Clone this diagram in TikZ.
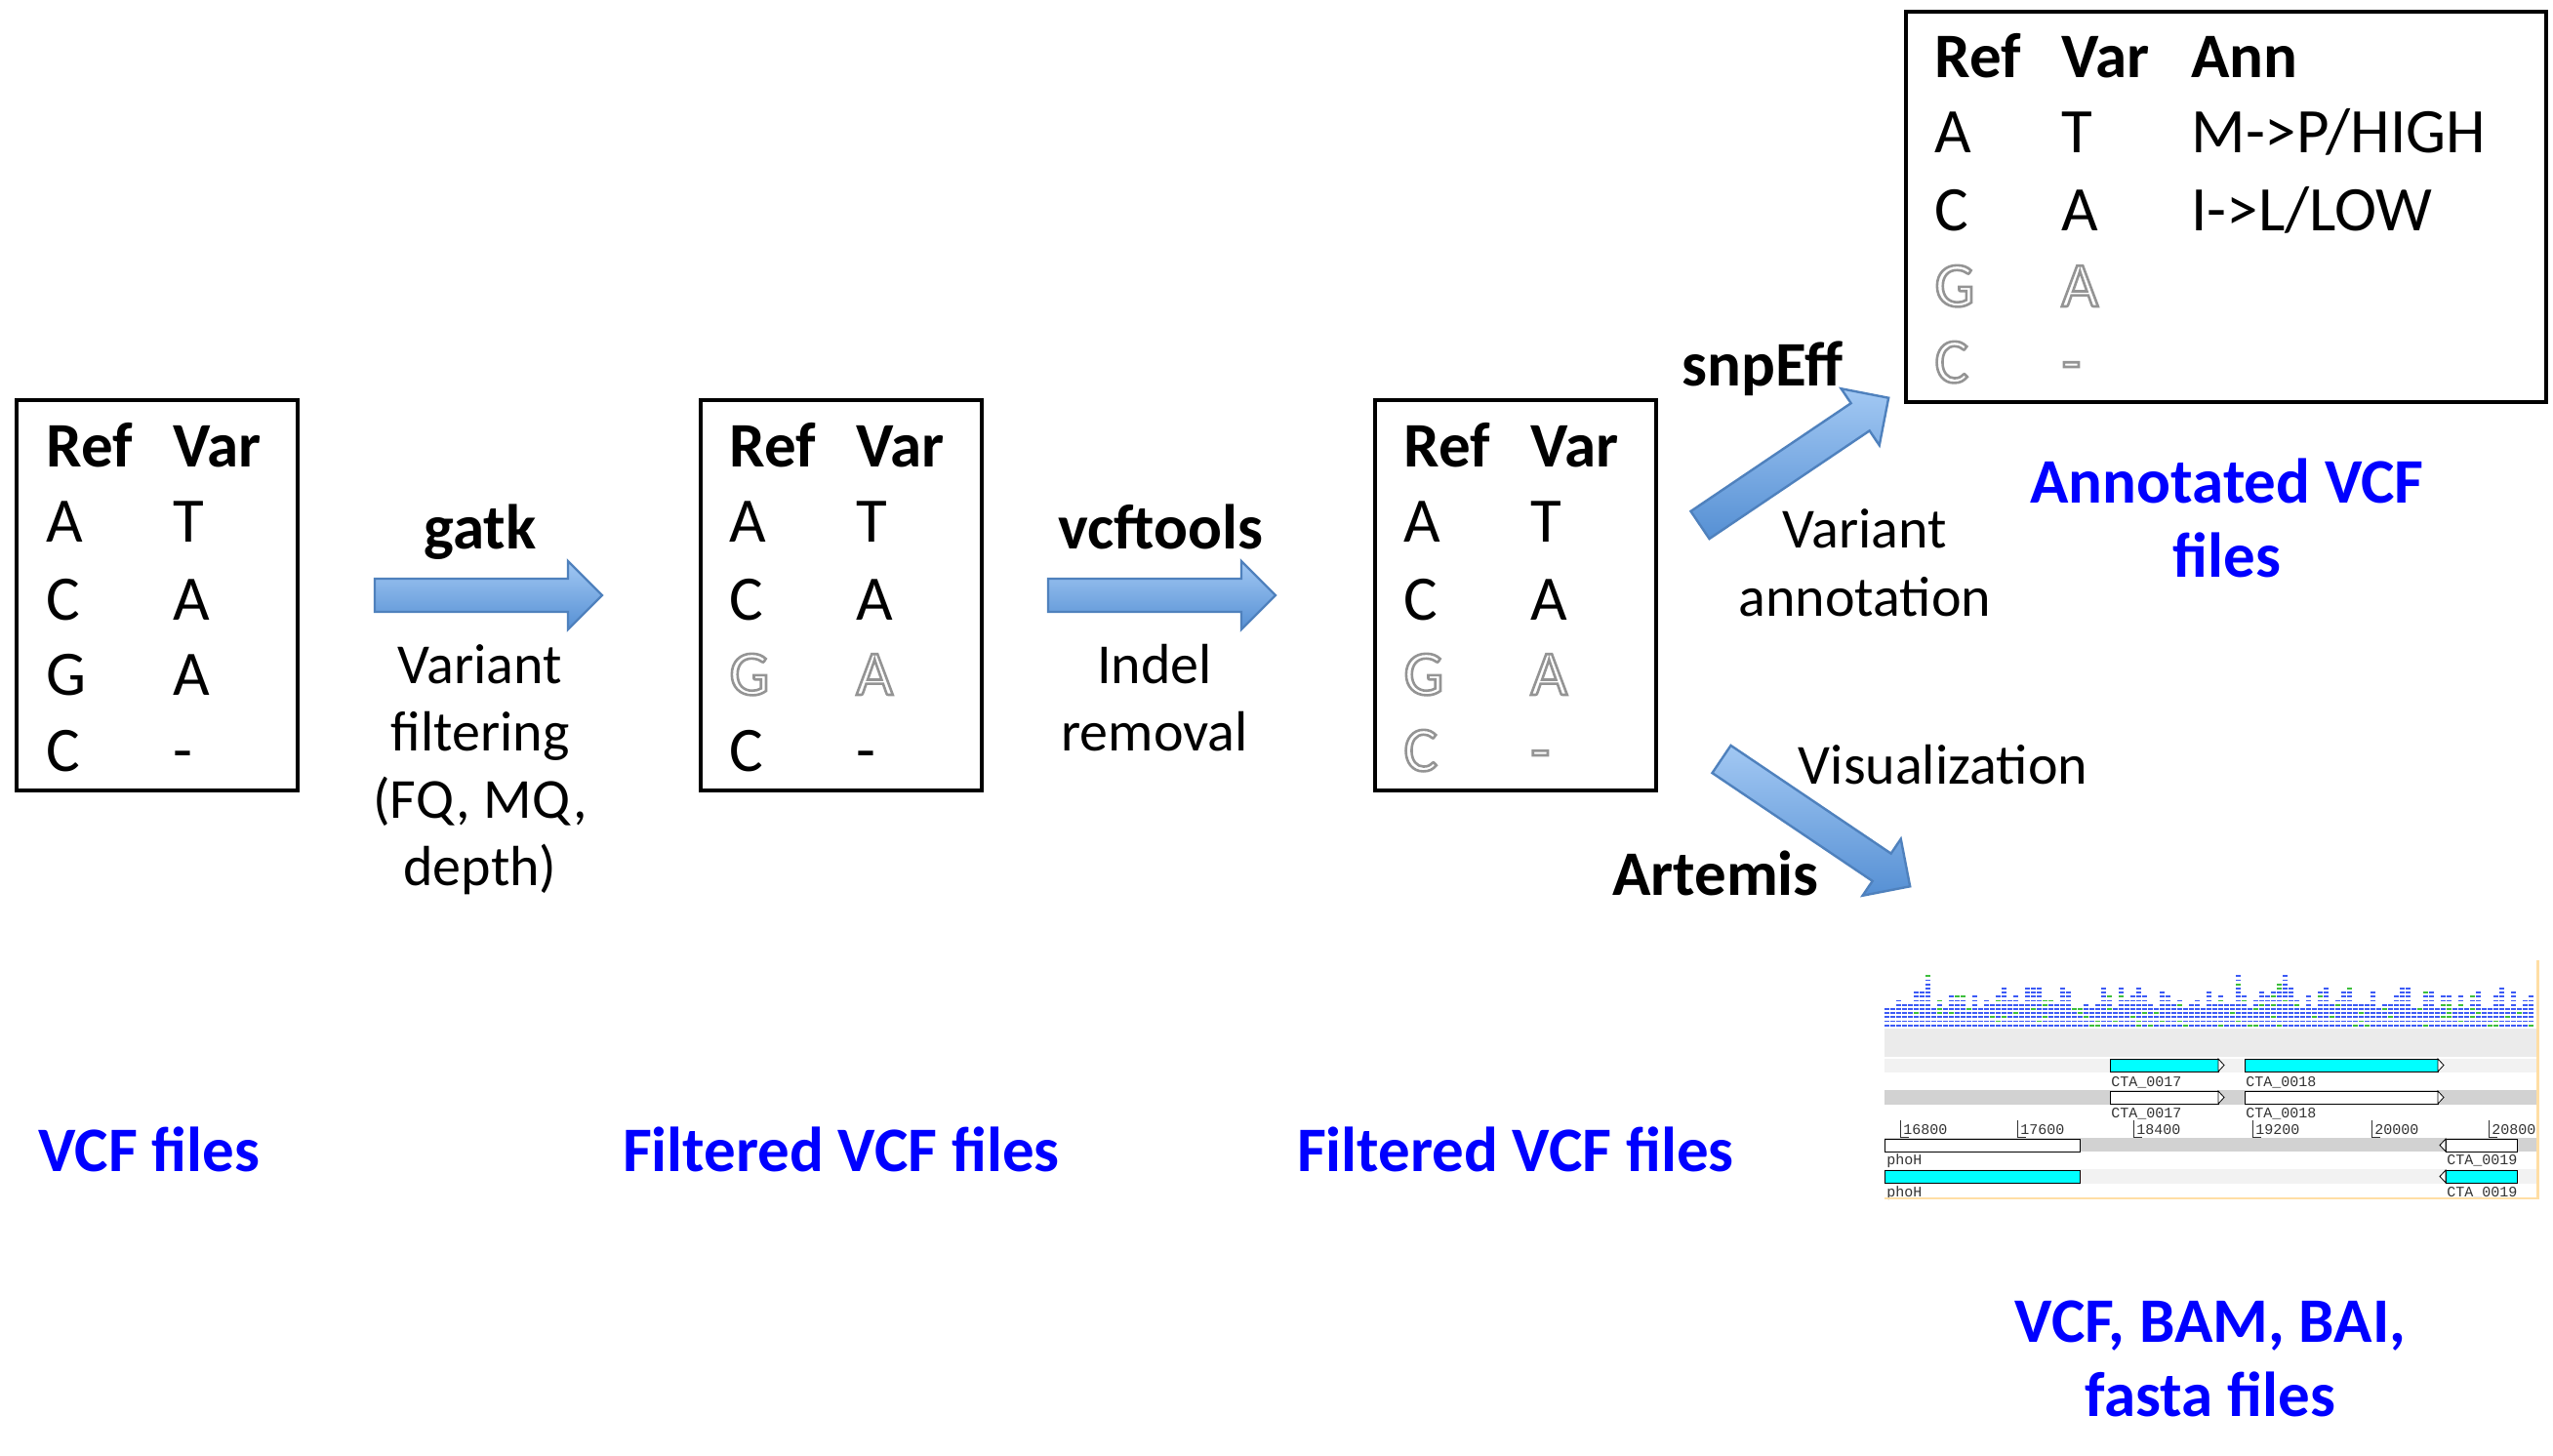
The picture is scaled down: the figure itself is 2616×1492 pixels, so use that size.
\documentclass[tikz,border=0pt]{standalone}
\usepackage{fontspec}
\setmainfont{Carlito}
\newfontfamily\artfont{Liberation Mono}
\usetikzlibrary{calc}
\definecolor{arrtop}{RGB}{162,200,243}
\definecolor{arrbot}{RGB}{86,144,212}
\definecolor{arredge}{RGB}{79,129,189}
\definecolor{readblue}{RGB}{60,90,245}
\definecolor{readgreen}{RGB}{60,190,60}
\definecolor{lblue}{RGB}{0,0,255}
\definecolor{bandA}{RGB}{235,235,235}
\definecolor{bandB}{RGB}{242,242,242}
\definecolor{bandC}{RGB}{210,210,210}
\definecolor{orangeln}{RGB}{255,222,165}
\definecolor{gcyan}{RGB}{0,255,255}
\tikzset{
 cell/.style={font=\fontsize{32.5}{39}\selectfont, anchor=base west, inner sep=0pt},
 hcell/.style={cell, font=\fontsize{32.5}{39}\selectfont\bfseries},
 tablebox/.style={draw, line width=2pt, inner sep=0pt, minimum width=144pt, minimum height=200pt},
 lbl/.style={font=\fontsize{29}{35}\selectfont, anchor=base, inner sep=0pt},
 tool/.style={font=\fontsize{32.5}{39}\selectfont\bfseries, anchor=base, inner sep=0pt},
 outlbl/.style={tool, text=lblue},
 art/.style={font=\artfont\fontsize{7.5}{9}\selectfont, anchor=base west, inner sep=0pt, text=black!80},
 bigarrow/.style={top color=arrtop, bottom color=arrbot, draw=arredge, line width=1.2pt, line join=miter},
}
% outlined (faded) letter via PDF text render mode 2: white fill, grey stroke
\newcommand\ghosttext[1]{\special{pdf:literal q 2 Tr 1.3 w 0.58 G 1 g}#1\special{pdf:literal Q}}
\newcommand\blockarrow[2]{%
  \begin{scope}[shift={(#1)}, rotate=#2]
  \path[bigarrow] (0,-17) -- (198,-17) -- (198,-35) -- (233,0) -- (198,35) -- (198,17) -- (0,17) -- cycle;
  \end{scope}}
\newcommand\fwdgene[4]{%
  \filldraw[fill=#4, draw=black, line width=0.5pt] (#1,#3) rectangle (#2,#3+13);
  \filldraw[fill=white, draw=black, line width=0.4pt] (#2,#3) -- (#2+6,#3+6.5) -- (#2,#3+13) -- cycle;}
\newcommand\revgene[4]{%
  \filldraw[fill=#4, draw=black, line width=0.5pt] (#1,#3) rectangle (#2,#3+13);
  \filldraw[fill=white, draw=black, line width=0.4pt] (#1,#3) -- (#1-6,#3+6.5) -- (#1,#3+13) -- cycle;}
\newcommand\sctick[2]{%
  \draw[black!80, line width=0.5pt] (#1,1148) -- (#1,1165) -- (#1+9,1165);
  \node[art] at (#1+3,1162) {#2};}
\begin{document}
\begin{tikzpicture}[x=0.5pt, y=-0.5pt]
\useasboundingbox (0,0) rectangle (2616,1492);
\fill[white] (0,0) rectangle (2616,1492);

% ---------- tables ----------
\node[tablebox] (t1) at (161,610) {};
\node[hcell] (t1h1) at (47,478) {Ref};
\node[hcell] (t1h2) at (177,478) {Var};
\node[cell] (t1a) at (47,555) {A};  \node[cell] (t1b) at (177,555) {T};
\node[cell] (t1c) at (47,635) {C};  \node[cell] (t1d) at (177,635) {A};
\node[cell] (t1e) at (47,712) {G};  \node[cell] (t1f) at (177,712) {A};
\node[cell] (t1g) at (47,790) {C};  \node[cell] (t1k) at (177,790) {-};

\node[tablebox] (t2) at (861.5,610) {};
\node[hcell] (t2h1) at (747,478) {Ref};
\node[hcell] (t2h2) at (877,478) {Var};
\node[cell] (t2a) at (747,555) {A};  \node[cell] (t2b) at (877,555) {T};
\node[cell] (t2c) at (747,635) {C};  \node[cell] (t2d) at (877,635) {A};
\node[cell] (t2e) at (747,712) {\ghosttext{G}};  \node[cell] (t2f) at (877,712) {\ghosttext{A}};
\node[cell] (t2g) at (747,790) {C};  \node[cell] (t2k) at (877,790) {-};

\node[tablebox] (t3) at (1552.5,610) {};
\node[hcell] (t3h1) at (1438,478) {Ref};
\node[hcell] (t3h2) at (1568,478) {Var};
\node[cell] (t3a) at (1438,555) {A};  \node[cell] (t3b) at (1568,555) {T};
\node[cell] (t3c) at (1438,635) {C};  \node[cell] (t3d) at (1568,635) {A};
\node[cell] (t3e) at (1438,712) {\ghosttext{G}};  \node[cell] (t3f) at (1568,712) {\ghosttext{A}};
\node[cell] (t3g) at (1438,790) {\ghosttext{C}};  \node[cell] (t3k) at (1568,790) {\ghosttext{-}};

\node[tablebox, minimum width=328pt] (t4) at (2281,212) {};
\node[hcell] (t4h1) at (1982,80) {Ref};
\node[hcell] (t4h2) at (2112,80) {Var};
\node[hcell] (t4h3) at (2245,80) {Ann};
\node[cell] (t4a) at (1982,157) {A};  \node[cell] (t4b) at (2112,157) {T};  \node[cell] (t4x) at (2245,157) {M->P/HIGH};
\node[cell] (t4c) at (1982,237) {C};  \node[cell] (t4d) at (2112,237) {A};  \node[cell] (t4y) at (2245,237) {I->L/LOW};
\node[cell] (t4e) at (1982,314) {\ghosttext{G}};  \node[cell] (t4f) at (2112,314) {\ghosttext{A}};
\node[cell] (t4g) at (1982,392) {\ghosttext{C}};  \node[cell] (t4k) at (2112,392) {\ghosttext{-}};

% ---------- arrows ----------
\coordinate (a1) at (384,610);
\coordinate (a2) at (1074,610);
\coordinate (a3) at (1742,538);
\coordinate (a4) at (1764,778);
\blockarrow{a1}{0}
\blockarrow{a2}{0}
\blockarrow{a3}{34}
\blockarrow{a4}{-34}

% ---------- labels ----------
\node[tool] (gatk) at (492,562) {gatk};
\node[lbl] (f1) at (492,700) {Variant};
\node[lbl] (f2) at (492,769) {filtering};
\node[lbl] (f3) at (492,838) {(FQ, MQ,};
\node[lbl] (f4) at (492,907) {depth)};
\node[tool] (vcft) at (1189,562) {vcftools};
\node[lbl] (i1) at (1183,700) {Indel};
\node[lbl] (i2) at (1183,769) {removal};
\node[tool] (snp) at (1806,395) {snpEff};
\node[lbl] (va1) at (1911,561) {Variant};
\node[lbl] (va2) at (1911,631) {annotation};
\node[outlbl] (ann1) at (2282,515) {Annotated VCF};
\node[outlbl] (ann2) at (2282,591) {files};
\node[lbl] (vis) at (1991,803) {Visualization};
\node[tool] (art) at (1758,917) {Artemis};
\node[outlbl] (o1) at (153,1200) {VCF files};
\node[outlbl] (o2) at (862,1200) {Filtered VCF files};
\node[outlbl] (o3) at (1553,1200) {Filtered VCF files};
\node[outlbl] (o4a) at (2265,1375) {VCF, BAM, BAI,};
\node[outlbl] (o4b) at (2265,1451) {fasta files};

% ---------- Artemis screenshot ----------
\fill[bandA] (1931,1054) rectangle (2599,1083);
\pgfmathsetseed{42}
\foreach \i in {0,...,110}{
  \pgfmathrandominteger{\nn}{5}{10}
  \pgfmathrandominteger{\sp}{0}{10}
  \ifnum\sp=0 \pgfmathtruncatemacro\nn{\nn+3}\fi
  \foreach \k in {1,...,\nn}{
    \pgfmathrandominteger{\cc}{0}{9}
    \ifnum\cc=0 \def\rc{readgreen}\else\def\rc{readblue}\fi
    \fill[\rc] ({1931+6*\i},{1054-4.2*\k}) rectangle ++(5,1.8);
  }
}
\fill[bandB] (1931,1085) rectangle (2599,1099);
\fill[bandC] (1931,1117) rectangle (2599,1132);
\fill[bandC] (1931,1166) rectangle (2599,1180);
\fill[bandB] (1931,1198) rectangle (2599,1213);
\fwdgene{2162}{2273}{1085}{gcyan}
\fwdgene{2300}{2498}{1085}{gcyan}
\node[art] (l1) at (2163,1113) {CTA\_0017};
\node[art] (l2) at (2301,1113) {CTA\_0018};
\fwdgene{2162}{2273}{1118}{white}
\fwdgene{2300}{2498}{1118}{white}
\node[art] (l3) at (2163,1145) {CTA\_0017};
\node[art] (l4) at (2301,1145) {CTA\_0018};
\sctick{1947}{16800}
\sctick{2067}{17600}
\sctick{2186}{18400}
\sctick{2308}{19200}
\sctick{2430}{20000}
\sctick{2550}{20800}
\filldraw[fill=white, draw=black, line width=0.5pt] (1931,1167) rectangle (2131,1180);
\revgene{2506}{2579}{1167}{white}
\node[art] (l5) at (1933,1193) {phoH};
\node[art] (l6) at (2507,1193) {CTA\_0019};
\filldraw[fill=gcyan, draw=black, line width=0.5pt] (1931,1199) rectangle (2131,1212);
\revgene{2506}{2579}{1199}{gcyan}
\node[art] (l7) at (1933,1226) {phoH};
\node[art] (l8) at (2507,1226) {CTA\_0019};
\draw[orangeln, line width=1.5pt] (2600,984) -- (2600,1229);
\draw[orangeln, line width=1pt] (1931,1228) -- (2600,1228);
\end{tikzpicture}
\end{document}
